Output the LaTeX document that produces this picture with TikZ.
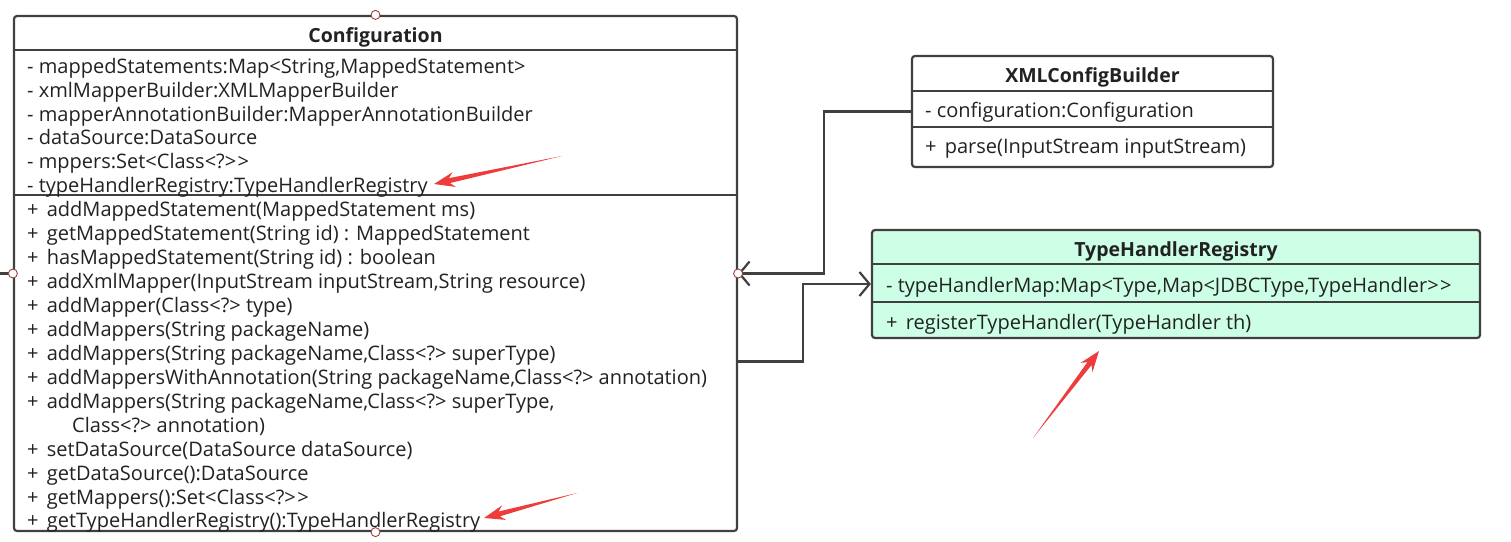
\documentclass[tikz,border=0pt]{standalone}
\usepackage{fontspec}
\setmainfont{Open Sans}
\usetikzlibrary{calc,arrows.meta}
\definecolor{ln}{HTML}{404040}
\definecolor{tx}{HTML}{222222}
\definecolor{mint}{HTML}{CCFFE6}
\definecolor{redarr}{HTML}{EE3B3B}
\definecolor{circ}{HTML}{A0403C}
\newcommand\redarrow[2]{\fill[redarr] (#2) -- ($(#2)!22pt!20:(#1)$) -- ($(#2)!16pt!9:(#1)$) -- (#1) -- ($(#2)!16pt!-9:(#1)$) -- ($(#2)!22pt!-20:(#1)$) -- cycle;}
\newcommand\twogt{>\kern1.5pt>}
\newcommand\pl{+\hspace{3pt} }
\begin{document}
\begin{tikzpicture}[x=1pt,y=-1pt,
 box/.style={draw=ln, line width=2.2pt, rounded corners=3pt, inner sep=0pt},
 txt/.style={anchor=base west, inner sep=0pt, font=\fontsize{20}{22}\selectfont, text=tx},
 ttl/.style={anchor=base, inner sep=0pt, font=\fontsize{19.5}{22}\selectfont\bfseries, text=tx},
 sep/.style={draw=ln, line width=2.2pt},
 conn/.style={draw=ln, line width=2.2pt},
 barb/.style={-{Straight Barb[length=10pt,width=24pt,line width=2.2pt]}},
 pin/.style={circle, draw=circ, fill=white, line width=0.9pt, minimum size=9pt, inner sep=0pt},
 ]
\useasboundingbox (0,0) rectangle (1511,541);
% boxes
\node[box, fill=white, minimum width=723pt, minimum height=515pt] (conf) at (375.5,273.5) {};
\node[box, fill=white, minimum width=361pt, minimum height=111pt] (xml) at (1092.5,111.5) {};
\node[box, fill=mint, minimum width=608pt, minimum height=108pt] (thr) at (1176,284) {};
% separators
\draw[sep] ($(conf.north west)+(0,35)$) -- ($(conf.north east)+(0,35)$);
\draw[sep] ($(conf.north west)+(0,180)$) -- ($(conf.north east)+(0,180)$);
\draw[sep] ($(xml.north west)+(0,36)$) -- ($(xml.north east)+(0,36)$);
\draw[sep] ($(xml.north west)+(0,72)$) -- ($(xml.north east)+(0,72)$);
\draw[sep] ($(thr.north west)+(0,35)$) -- ($(thr.north east)+(0,35)$);
\draw[sep] ($(thr.north west)+(0,73)$) -- ($(thr.north east)+(0,73)$);
% Configuration texts
\node[ttl] (ct) at (375.5,42) {Configuration};
\node[txt] (ca1) at (27,73) {- mappedStatements:Map<String,MappedStatement>};
\node[txt] (ca2) at (27,97) {- xmlMapperBuilder:XMLMapperBuilder};
\node[txt] (ca3) at (27,121) {- mapperAnnotationBuilder:MapperAnnotationBuilder};
\node[txt] (ca4) at (27,144) {- dataSource:DataSource};
\node[txt] (ca5) at (27,168) {- mppers:Set<Class<?\twogt};
\node[txt] (ca6) at (27,192) {- typeHandlerRegistry:TypeHandlerRegistry};
\node[txt] (cm1) at (27,216) {\pl addMappedStatement(MappedStatement ms)};
\node[txt] (cm2) at (27,240) {\pl getMappedStatement(String id) : MappedStatement};
\node[txt] (cm3) at (27,264) {\pl hasMappedStatement(String id) : boolean};
\node[txt] (cm4) at (27,288) {\pl addXmlMapper(InputStream inputStream,String resource)};
\node[txt] (cm5) at (27,312) {\pl addMapper(Class<?> type)};
\node[txt] (cm6) at (27,336) {\pl addMappers(String packageName)};
\node[txt] (cm7) at (27,360) {\pl addMappers(String packageName,Class<?> superType)};
\node[txt] (cm8) at (27,384) {\pl addMappersWithAnnotation(String packageName,Class<?> annotation)};
\node[txt] (cm9) at (27,408) {\pl addMappers(String packageName,Class<?> superType,};
\node[txt] (cm10) at (72,432) {Class<?> annotation)};
\node[txt] (cm11) at (27,456) {\pl setDataSource(DataSource dataSource)};
\node[txt] (cm12) at (27,480) {\pl getDataSource():DataSource};
\node[txt] (cm13) at (27,504) {\pl getMappers():Set<Class<?\twogt};
\node[txt] (cm14) at (27,527) {\pl getTypeHandlerRegistry():TypeHandlerRegistry};
% XMLConfigBuilder texts
\node[ttl] (xt) at (1092.5,82) {XMLConfigBuilder};
\node[txt] (xa1) at (925,117) {- configuration:Configuration};
\node[txt] (xm1) at (925,153) {\pl parse(InputStream inputStream)};
% TypeHandlerRegistry texts
\node[ttl] (tt) at (1176,256) {TypeHandlerRegistry};
\node[txt] (ta1) at (886,292) {- typeHandlerMap:Map<Type,Map<JDBCType,TypeHandler\twogt};
\node[txt] (tm1) at (886,329) {\pl registerTypeHandler(TypeHandler th)};
% connectors
\coordinate (stub) at (0,273.5);
\coordinate (c2) at ($(conf.east)+(0,88)$);
\draw[conn] (conf.west) -- (stub);
\draw[conn, barb] (xml.west) -- ++(-87,0) |- (conf.east);
\draw[conn, barb] (c2) -| ($(thr.west)+(-68,0)$) -- (thr.west);
% pins
\node[pin] (pn) at (conf.north) {};
\node[pin] (ps) at (conf.south) {};
\node[pin] (pw) at (conf.west) {};
\node[pin] (pe) at (conf.east) {};
% red arrows
\coordinate (r1t) at (562,156); \coordinate (r1h) at (434,184);
\coordinate (r2t) at (577,493); \coordinate (r2h) at (484,518);
\coordinate (r3t) at (1033,438); \coordinate (r3h) at (1099,351);
\redarrow{r1t}{r1h}
\redarrow{r2t}{r2h}
\redarrow{r3t}{r3h}
\end{tikzpicture}
\end{document}
